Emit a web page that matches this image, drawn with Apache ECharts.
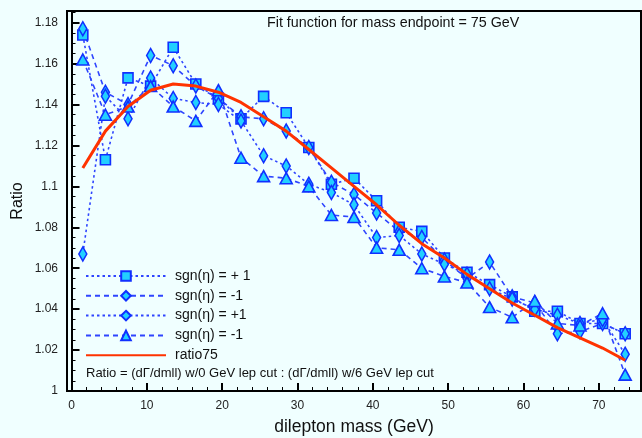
<!DOCTYPE html>
<html>
<head>
<meta charset="utf-8">
<script src="https://cdn.jsdelivr.net/npm/echarts@6/dist/echarts.min.js"></script>
<style>html,body{margin:0;padding:0;background:#f0ffff}#c{width:642px;height:438px}</style>
</head>
<body>
<div id="c"></div>
<script>
var massX = [1.5,4.5,7.5,10.5,13.5,16.5,19.5,22.5,25.5,28.5,31.5,34.5,37.5,40.5,43.5,46.5,49.5,52.5,55.5,58.5,61.5,64.5,67.5,70.5,73.5];
var sqPlus = [1.174,1.113,1.153,1.149,1.168,1.150,1.143,1.133,1.144,1.136,1.119,1.101,1.104,1.093,1.080,1.078,1.065,1.058,1.052,1.046,1.039,1.039,1.033,1.033,1.028];
var diaMinus = [1.177,1.146,1.140,1.164,1.159,1.149,1.143,1.134,1.133,1.127,1.119,1.102,1.096,1.087,1.078,1.075,1.064,1.055,1.063,1.046,1.043,1.028,1.029,1.033,1.028];
var diaPlus = [1.067,1.144,1.133,1.153,1.143,1.141,1.140,1.132,1.115,1.110,1.101,1.097,1.091,1.075,1.076,1.067,1.062,1.057,1.050,1.045,1.040,1.037,1.033,1.035,1.018];
var triMinus = [1.162,1.135,1.139,1.149,1.139,1.132,1.147,1.114,1.105,1.104,1.100,1.086,1.085,1.070,1.069,1.060,1.056,1.053,1.041,1.036,1.044,1.033,1.032,1.038,1.008];
var ratio75 = [1.109,1.127,1.139,1.147,1.150,1.149,1.146,1.141,1.134,1.127,1.118,1.109,1.100,1.091,1.081,1.072,1.065,1.057,1.050,1.043,1.037,1.031,1.026,1.021,1.015];
var seriesNames = ['s1','s2','s3','s4','ratio75'];
var legendLabels = ['sgn(\u03b7) = + 1','sgn(\u03b7) = -1','sgn(\u03b7) = +1','sgn(\u03b7) = -1','ratio75'];
var xMajor = [0,10,20,30,40,50,60,70];
var xMinor = [2,4,6,8,12,14,16,18,22,24,26,28,32,34,36,38,42,44,46,48,52,54,56,58,62,64,66,68,72,74];
var yMajor = [1,1.02,1.04,1.06,1.08,1.1,1.12,1.14,1.16,1.18];
var yMinor = [];
for (var k = 0; k < yMajor.length; k++) { for (var m = 1; m <= 3; m++) { var v = +(yMajor[k] + m*0.005).toFixed(3); if (v < 1.1857) yMinor.push(v); } }
var titleText = 'Fit function for mass endpoint = 75 GeV';
var noteText = 'Ratio = (d\u0393/dmll) w/0 GeV lep cut : (d\u0393/dmll) w/6 GeV lep cut';

function pairs(ys){ return massX.map(function(x,i){ return [x, ys[i]]; }); }
var FONT = 'Liberation Sans, Arial, sans-serif';
var lineBlue = '#2f45ff', fillCyan = '#22d0ff', edgeBlue = '#1030ff';
function ptSeries(name, ys, symbol, size, dash){
  return { name:name, type:'line', data:pairs(ys), symbol:symbol, symbolSize:size,
    lineStyle:{color:lineBlue, width:1.6, type:dash},
    itemStyle:{color:fillCyan, borderColor:edgeBlue, borderWidth:1.6},
    emphasis:{disabled:true}, animation:false, z:3 };
}
var chart = echarts.init(document.getElementById('c'), null, {renderer:'canvas'});
var axBase = {type:'value', splitLine:{show:false}};
chart.setOption({
  backgroundColor:'#f0ffff',
  animation:false,
  textStyle:{fontFamily:FONT},
  grid:{left:67, right:1, top:11, bottom:47, show:true, borderColor:'#000', borderWidth:2, backgroundColor:'transparent', outerBoundsMode:'none', containLabel:false},
  xAxis:[
    Object.assign({}, axBase, {min:-0.6, max:75.6, position:'bottom',
      axisLine:{show:true, lineStyle:{color:'#000', width:2}},
      axisTick:{show:true, inside:true, length:8, customValues:xMajor, lineStyle:{color:'#000', width:2}},
      axisLabel:{show:true, customValues:xMajor, color:'#222', fontSize:12, fontFamily:FONT, margin:9},
      name:'dilepton mass (GeV)', nameLocation:'middle', nameGap:27, nameTextStyle:{fontSize:17.5, color:'#111', fontFamily:FONT}}),
    Object.assign({}, axBase, {min:-0.6, max:75.6, position:'bottom',
      axisLine:{show:false},
      axisTick:{show:true, inside:true, length:4, customValues:xMinor, lineStyle:{color:'#000', width:1}},
      axisLabel:{show:false}})
  ],
  yAxis:[
    Object.assign({}, axBase, {min:1, max:1.1857, position:'left',
      axisLine:{show:true, lineStyle:{color:'#000', width:2}},
      axisTick:{show:true, inside:true, length:8, customValues:yMajor, lineStyle:{color:'#000', width:2}},
      axisLabel:{show:true, customValues:yMajor, color:'#222', fontSize:12, fontFamily:FONT, margin:9,
        formatter:function(v){ return String(+(+v).toFixed(2)); }},
      name:'Ratio', nameLocation:'middle', nameGap:41, nameMoveOverlap:false, nameRotate:90, nameTextStyle:{fontSize:16, color:'#111', fontFamily:FONT}}),
    Object.assign({}, axBase, {min:1, max:1.1857, position:'left',
      axisLine:{show:false},
      axisTick:{show:true, inside:true, length:4, customValues:yMinor, lineStyle:{color:'#000', width:1}},
      axisLabel:{show:false}})
  ],
  legend:{
    orient:'vertical', left:85, top:269, itemWidth:80, itemHeight:12, itemGap:5.8, padding:0,
    data:seriesNames.map(function(n, i){ return i === 4 ? {name:n, itemStyle:{opacity:0}} : n; }),
    formatter:function(n){ return legendLabels[seriesNames.indexOf(n)]; },
    textStyle:{fontSize:14, color:'#111', fontFamily:FONT, padding:[0,0,0,4]},
    selectedMode:false
  },
  graphic:[
    {type:'text', left:267, top:16, style:{text:titleText, font:'14.3px '+FONT, fill:'#111'}},
    {type:'text', left:86, top:367, style:{text:noteText, font:'13px '+FONT, fill:'#111'}}
  ],
  series:[
    ptSeries(seriesNames[0], sqPlus, 'rect', 10, [2.5,3]),
    ptSeries(seriesNames[1], diaMinus, 'diamond', [8,14], [5,4]),
    ptSeries(seriesNames[2], diaPlus, 'diamond', [8,14], [2.5,3]),
    ptSeries(seriesNames[3], triMinus, 'triangle', [12,11], [5,4]),
    {name:seriesNames[4], type:'line', data:pairs(ratio75), symbol:'none', smooth:false,
      lineStyle:{color:'#ff3300', width:3}, itemStyle:{color:'#ff3300'}, z:5, emphasis:{disabled:true}}
  ]
});
</script>
</body>
</html>
